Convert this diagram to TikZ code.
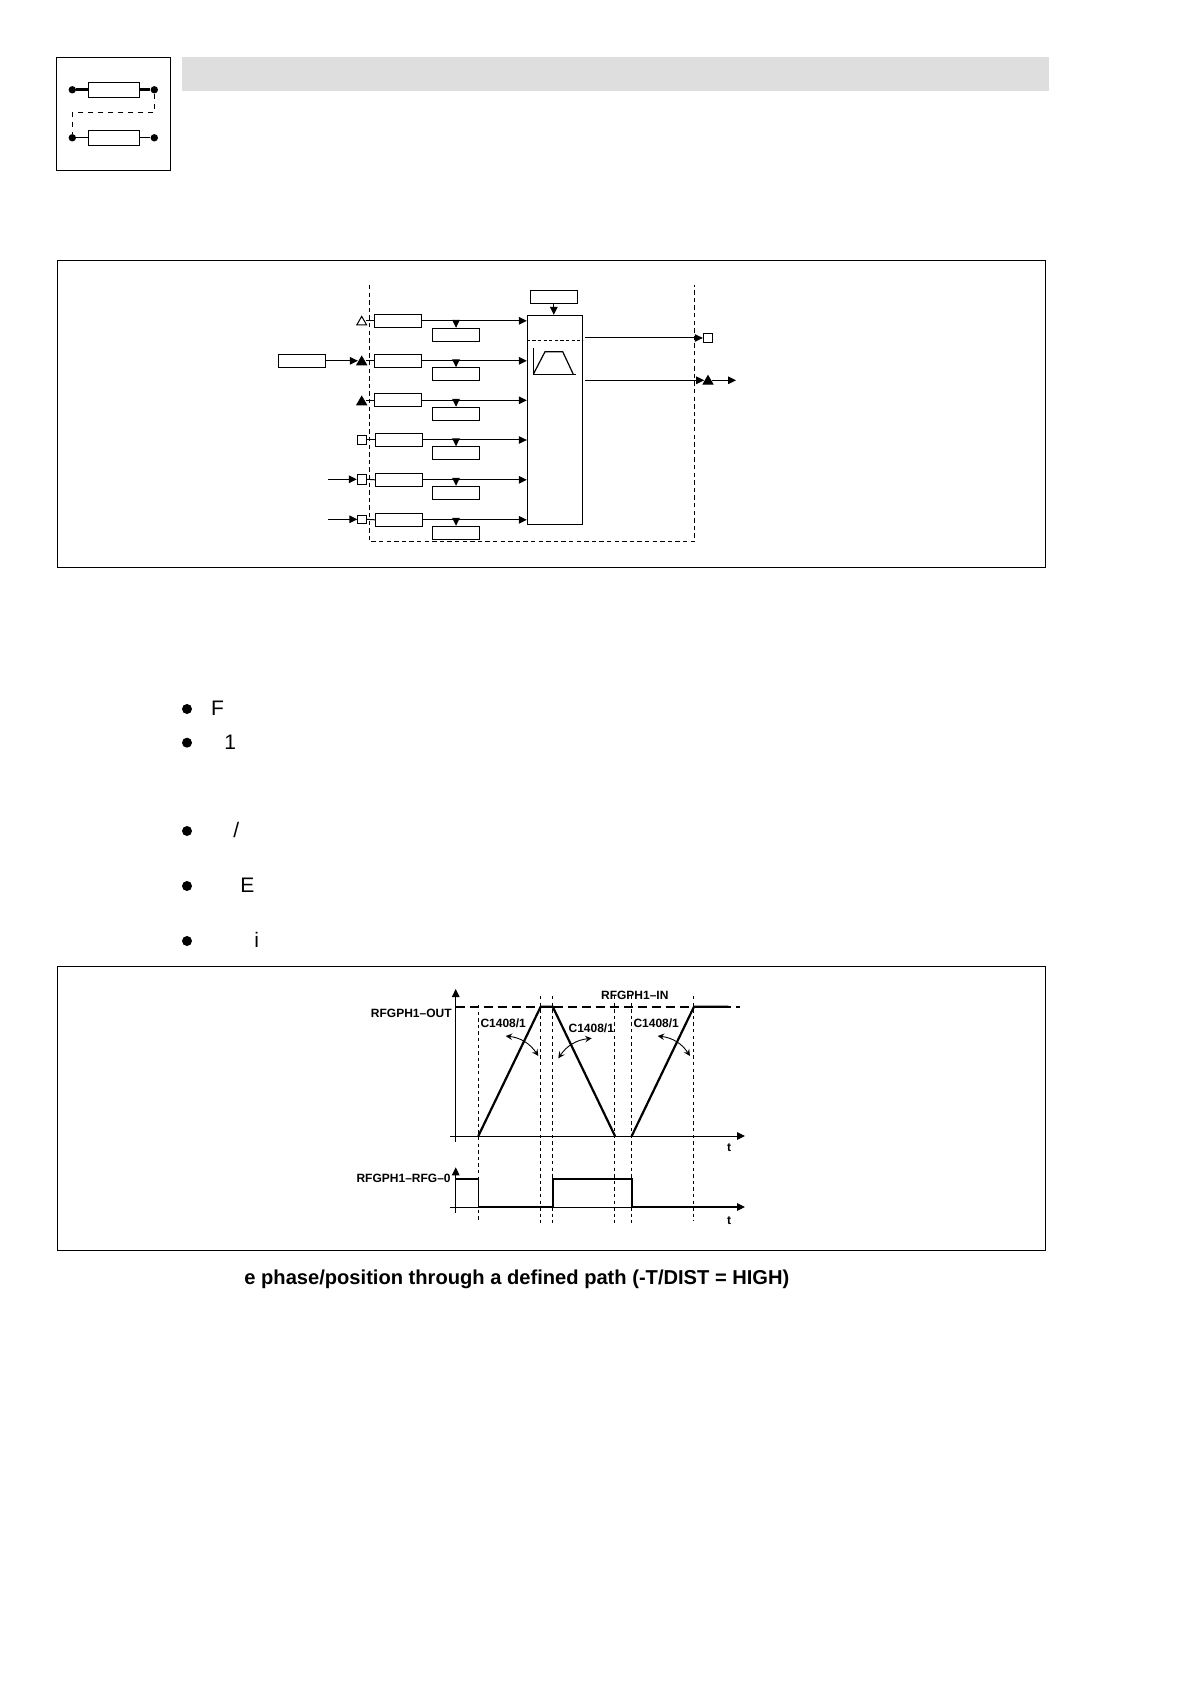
\documentclass[tikz,border=0pt]{standalone}
\usepackage{fontspec}
\setmainfont{Liberation Sans}
\usepackage{amsmath}
\usepackage{tikz}
\usetikzlibrary{arrows.meta,calc,positioning,shapes.geometric}

\begin{document}
\begin{tikzpicture}[
            x=0.5pt, y=-0.5pt,
            frame/.style={draw, line width=0.5pt},
            fnbox/.style={
                draw,
                line width=0.5pt,
                inner sep=0pt,
                minimum width=23.7pt,
                minimum height=6.5pt
            },
            iconbox/.style={
                draw,
                line width=0.5pt,
                fill=white,
                inner sep=0pt,
                minimum width=25.5pt,
                minimum height=7.5pt
            },
            pin/.style={
                draw,
                line width=0.5pt,
                fill=white,
                inner sep=0pt,
                minimum size=4.7pt
            },
            opentri/.style={
                regular polygon,
                regular polygon sides=3,
                draw,
                line width=0.5pt,
                fill=white,
                inner sep=0pt,
                minimum size=5.6pt
            },
            filltri/.style={opentri, fill=black},
            icondot/.style={circle, fill=black, inner sep=0pt, minimum size=3.7pt},
            bulletdot/.style={circle, fill=black, inner sep=0pt, minimum size=5pt},
            flow/.style={->, >={Triangle[length=4pt,width=3.8pt]}, line width=0.5pt},
            link/.style={line width=0.5pt},
            grid/.style={line width=0.35pt, dash pattern=on 1.7pt off 1.6pt},
            boundary/.style={line width=0.5pt, dash pattern=on 2.2pt off 1.6pt},
            signal/.style={line width=1.1pt},
            bodytext/.style={anchor=base west, inner sep=0pt, font=\fontsize{10.5}{12}\selectfont},
            axislabel/.style={inner sep=0pt, font=\bfseries\fontsize{6}{7}\selectfont}
        ]

            \useasboundingbox (0,0) rectangle (1190,1684);

            % page head
            \draw[frame] (56.5,57.5) rectangle (170.5,170.5);
            \fill[black!13] (182,57) rectangle (1049,91);

            \node[iconbox] (icontop) at (113.8,89.8) {};
            \node[iconbox] (iconlow) at (113.8,137.8) {};
            \node[icondot] (dota) at (72.3,89.8) {};
            \node[icondot] (dotb) at (154.3,89.8) {};
            \node[icondot] (dotc) at (72.3,137.8) {};
            \node[icondot] (dotd) at (154.3,137.8) {};

            \draw[line width=1.4pt] (dota) -- (icontop);
            \draw[line width=1.4pt] (icontop) -- (dotb);
            \draw[link] (dotc) -- (iconlow);
            \draw[link] (iconlow) -- (dotd);
            \draw[link, dash pattern=on 2.5pt off 2.5pt]
                (dotb) -- (154.3,113) -- (72.3,113) -- (dotc);

            % function block
            \draw[frame] (57,260.5) rectangle (1045,567);
            \draw[boundary] (369.3,285) -- (369.3,541.3) -- (694.7,541.3) -- (694.7,285);

            \node[fnbox] (rowa) at (398,320.8) {};
            \node[fnbox] (rowb) at (398,360.8) {};
            \node[fnbox] (rowc) at (398,400.3) {};
            \node[fnbox] (rowd) at (399,440) {};
            \node[fnbox] (rowe) at (399,479.8) {};
            \node[fnbox] (rowf) at (399,519.8) {};

            \node[fnbox] (coda) at (456,334.8) {};
            \node[fnbox] (codb) at (456,374.3) {};
            \node[fnbox] (codc) at (456,413.8) {};
            \node[fnbox] (codd) at (456,453.3) {};
            \node[fnbox] (code) at (456,492.8) {};
            \node[fnbox] (codf) at (456,532.8) {};

            \node[fnbox] (extern) at (301.8,360.8) {};
            \node[fnbox] (cfg) at (553.8,296.8) {};

            \node[draw, line width=0.5pt, inner sep=0pt, minimum width=27.5pt, minimum height=104.5pt]
                (ramp) at (554.8,419.8) {};

            \node[opentri] (pina) at (361.7,322) {};
            \node[filltri] (pinb) at (361.7,362) {};
            \node[filltri] (pinc) at (361.7,402) {};
            \node[pin] (pind) at (362,440) {};
            \node[pin] (pine) at (362,479.3) {};
            \node[pin, minimum size=4.2pt] (pinf) at (362,519.3) {};
            \node[pin] (pinout) at (708,338) {};
            \node[filltri] (trout) at (708,381.3) {};

            \coordinate (ine) at (328,479.3);
            \coordinate (inf) at (328,519.3);
            \coordinate (outend) at (736,380.3);

            \draw[link] (pina.east |- rowa.west) -- (rowa.west);
            \draw[link] (pinb.east |- rowb.west) -- (rowb.west);
            \draw[link] (pinc.east |- rowc.west) -- (rowc.west);
            \draw[link] (pind.east) -- (rowd.west);
            \draw[link] (pine.east) -- (rowe.west);
            \draw[link] (pinf.east) -- (rowf.west);

            \draw[flow] (extern.east) -- (pinb.west |- extern.east);
            \draw[flow] (ine) -- (pine.west);
            \draw[flow] (inf) -- (pinf.west);

            \draw[flow] (rowa.east) -- (rowa.east -| ramp.west);
            \draw[flow] (rowb.east) -- (rowb.east -| ramp.west);
            \draw[flow] (rowc.east) -- (rowc.east -| ramp.west);
            \draw[flow] (rowd.east) -- (rowd.east -| ramp.west);
            \draw[flow] (rowe.east) -- (rowe.east -| ramp.west);
            \draw[flow] (rowf.east) -- (rowf.east -| ramp.west);

            \draw[flow] (coda.north |- rowa.east) -- (coda.north);
            \draw[flow] (codb.north |- rowb.east) -- (codb.north);
            \draw[flow] (codc.north |- rowc.east) -- (codc.north);
            \draw[flow] (codd.north |- rowd.east) -- (codd.north);
            \draw[flow] (code.north |- rowe.east) -- (code.north);
            \draw[flow] (codf.north |- rowf.east) -- (codf.north);

            \draw[flow] (cfg.south) -- (cfg.south |- ramp.north);

            \draw[flow] ([xshift=1pt]ramp.east |- pinout.west) -- (pinout.west);
            \draw[flow] ([xshift=1pt]ramp.east |- outend) -- (trout.west |- outend);
            \draw[flow] (trout.east |- outend) -- (outend);

            \draw[link, dash pattern=on 1.6pt off 1.2pt] (ramp.west |- 0,340.3) -- (ramp.east |- 0,340.3);
            \draw[line width=0.6pt] (533.3,348.3) -- (533.3,374.3) -- (575.7,374.3);
            \draw[line width=0.6pt] (533.3,374.3) -- (545,351.7) -- (562.7,351.7) -- (573.3,374.3);

            % list
            \node[bulletdot] (ba) at (187,709) {};
            \node[bulletdot] (bb) at (187,742.7) {};
            \node[bulletdot] (bc) at (187,831) {};
            \node[bulletdot] (bd) at (187,886) {};
            \node[bulletdot] (be) at (187,941) {};

            \node[bodytext] (ta) at (210.7,715) {F};
            \node[bodytext] (tb) at (224,749) {1};
            \node[bodytext] (tc) at (233,837) {/};
            \node[bodytext] (td) at (240,892) {E};
            \node[bodytext] (te) at (254,947) {i};

            % timing chart
            \draw[frame] (57,966) rectangle (1045,1250);

            \draw[grid] (478.3,1005) -- (478.3,1220.7);
            \draw[grid] (540.5,996) -- (540.5,1222.7);
            \draw[grid] (552.7,996) -- (552.7,1222.7);
            \draw[grid] (614.7,996) -- (614.7,1222.7);
            \draw[grid] (631.7,996) -- (631.7,1222.7);
            \draw[grid] (693.5,996) -- (693.5,1220.7);

            \draw[flow] (455.7,1141.7) -- (455.7,989);
            \draw[flow] (450,1136) -- (745,1136);
            \draw[flow] (455.7,1212.7) -- (455.7,1167.3);
            \draw[flow] (450,1207) -- (745,1207);

            \draw[signal, dash pattern=on 4.5pt off 2.5pt] (455.7,1006.7) -- (740,1006.7);
            \draw[signal] (478.3,1136) -- (540.7,1006.7) -- (552.7,1006.7) -- (615,1136);
            \draw[signal] (631.7,1136) -- (694,1006.7) -- (728.3,1006.7);

            \draw[line width=0.6pt] (455.7,1179) -- (478.3,1179) -- (478.3,1207);
            \draw[signal] (478.3,1207) -- (552.7,1207) -- (552.7,1179) -- (631.7,1179)
                -- (631.7,1207) -- (738,1207);

            \node[axislabel, anchor=east] (lblout) at (452,1013.3) {RFGPH1--OUT};
            \node[axislabel, anchor=west] (lblin) at (600.7,995) {RFGPH1--IN};
            \node[axislabel, anchor=east] (lblrfg) at (451,1178) {RFGPH1--RFG--0};
            \node[axislabel] (lbla) at (503.2,1023.3) {C1408/1};
            \node[axislabel] (lblb) at (591.3,1028.7) {C1408/1};
            \node[axislabel] (lblc) at (656.2,1023.3) {C1408/1};
            \node[axislabel] (lblt) at (729,1147.7) {t};
            \node[axislabel] (lblu) at (729,1221) {t};

            \coordinate (cura) at (505.7,1036);
            \coordinate (curb) at (538.3,1056);
            \coordinate (curc) at (558.3,1058.3);
            \coordinate (curd) at (591.7,1038.3);
            \coordinate (cure) at (657.7,1036);
            \coordinate (curf) at (690,1056);

            \draw[<->, >=stealth, line width=0.45pt] (cura) to[bend left=25] (curb);
            \draw[<->, >=stealth, line width=0.45pt] (curc) to[bend left=25] (curd);
            \draw[<->, >=stealth, line width=0.45pt] (cure) to[bend left=25] (curf);

            \node[anchor=base west, inner sep=0pt, font=\bfseries\fontsize{10.06}{12}\selectfont]
                (caption) at (244,1284.5) {e phase/position through a defined path (-T/DIST = HIGH)};

        \end{tikzpicture}
\end{document}
